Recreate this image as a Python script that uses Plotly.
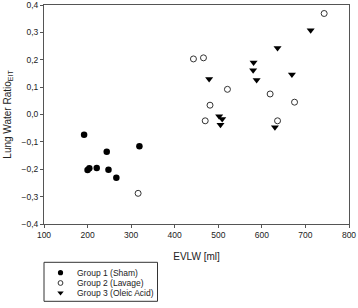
import plotly.graph_objects as go

g1_x = [192, 200, 204, 221, 244, 248, 266, 319]
g1_y = [-0.074, -0.203, -0.196, -0.195, -0.136, -0.202, -0.231, -0.116]

g2_x = [316, 443, 466, 521, 481, 470, 619, 675, 636, 743]
g2_y = [-0.288, 0.203, 0.207, 0.092, 0.034, -0.023, 0.075, 0.045, -0.023, 0.369]

g3_x = [712, 636, 581, 580, 588, 669, 479, 502, 509, 505, 630]
g3_y = [0.308, 0.243, 0.190, 0.162, 0.126, 0.146, 0.130, -0.006, -0.016, -0.037, -0.047]

names = ["Group 1 (Sham)", "Group 2 (Lavage)", "Group 3 (Oleic Acid)"]

x_ticks = [100, 200, 300, 400, 500, 600, 700, 800]
y_ticks = [-0.4, -0.3, -0.2, -0.1, 0.0, 0.1, 0.2, 0.3, 0.4]

W, H = 358, 308
# plot area in pixels
PL, PR, PT, PB = 44, 349, 5, 224


def make_markers(scale):
    return [
        dict(symbol="circle", size=6.5 * scale, color="black"),
        dict(symbol="circle-open", size=6 * scale, color="#333333", line=dict(width=1, color="#333333")),
        dict(symbol="triangle-down", size=7 * scale, color="black"),
    ]


markers = make_markers(1.0)
leg_markers = make_markers(0.8)

fig = go.Figure()
for xs, ys, nm, mk in zip([g1_x, g2_x, g3_x], [g1_y, g2_y, g3_y], names, markers):
    fig.add_trace(go.Scatter(x=xs, y=ys, mode="markers", name=nm, marker=mk,
                             xaxis="x", yaxis="y", showlegend=False))

# hand-built legend on a pixel-scaled overlay axis
leg_rows = [272.7, 283.0, 292.8]
leg_mx = 60.5
leg_tx = 75
for nm, mk, ry in zip(names, leg_markers, leg_rows):
    fig.add_trace(go.Scatter(x=[leg_mx], y=[ry], mode="markers", marker=mk,
                             xaxis="x2", yaxis="y2", showlegend=False, hoverinfo="skip"))
    fig.add_annotation(x=leg_tx, y=ry, xref="x2", yref="y2", text=nm, showarrow=False,
                       xanchor="left", yanchor="middle", font=dict(size=8.5, color="#222222"))
fig.add_shape(type="rect", xref="x2", yref="y2", x0=44, x1=157.5, y0=262.3, y1=301.3,
              line=dict(color="#333333", width=1), fillcolor="rgba(0,0,0,0)", layer="below")

axis_common = dict(showline=True, linecolor="#555555", linewidth=1, mirror=True,
                   ticks="outside", ticklen=3, tickcolor="#555555", showgrid=False,
                   zeroline=False, automargin=False, ticklabeloverflow="allow",
                   tickfont=dict(size=8.5, color="#222222"))

fig.update_layout(
    width=W, height=H,
    margin=dict(l=0, r=0, t=0, b=0),
    plot_bgcolor="rgba(0,0,0,0)", paper_bgcolor="white",
    separators=",.",
    font=dict(family="Liberation Sans, Arial, sans-serif", color="#222222"),
    xaxis=dict(range=[100, 800], tickvals=x_ticks, domain=[PL / W, PR / W],
               title=dict(text="EVLW [ml]", font=dict(size=10), standoff=13),
               **axis_common),
    yaxis=dict(range=[-0.4, 0.4], tickvals=y_ticks, tickformat=".1f",
               domain=[1 - PB / H, 1 - PT / H],
               title=dict(text="Lung Water Ratio<sub>EIT</sub>", font=dict(size=10), standoff=8),
               **axis_common),
    xaxis2=dict(range=[0, W], domain=[0, 1], visible=False, fixedrange=True),
    yaxis2=dict(range=[H, 0], domain=[0, 1], visible=False, fixedrange=True, anchor="x2"),
    showlegend=False,
)

fig.write_html("out.html", config={"displayModeBar": False},
               post_script="document.body.style.margin='0';document.body.style.overflow='hidden';")
